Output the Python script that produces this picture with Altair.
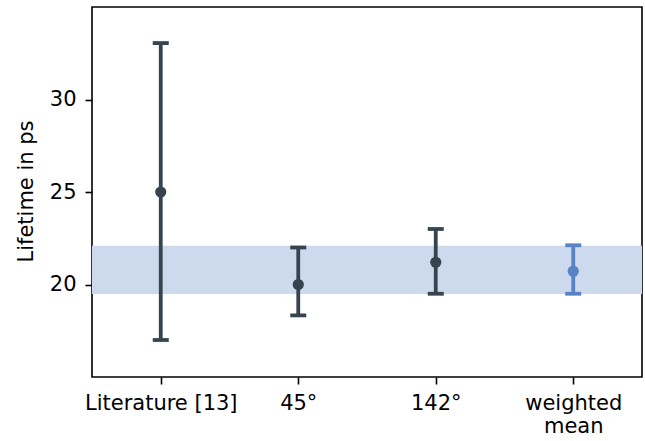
import altair as alt
import pandas as pd

categories = ["Literature [13]", "45°", "142°", "weighted mean"]
values = [25.0, 20.0, 21.2, 20.72]
lower = [17.0, 18.33, 19.5, 19.5]
upper = [33.05, 22.0, 23.0, 22.12]
kinds = ["measurement", "measurement", "measurement", "mean"]
band_low = [19.49]
band_high = [22.1]

df = pd.DataFrame({"cat": categories, "val": values, "lo": lower, "hi": upper, "kind": kinds})
caps = pd.DataFrame({
    "cat": categories * 2,
    "y": lower + upper,
    "kind": kinds * 2,
})
band = pd.DataFrame({"lo": band_low, "hi": band_high})

dark = "#36444f"
blue = "#5a83c5"
color_scale = alt.Scale(domain=["measurement", "mean"], range=[dark, blue])

x_enc = alt.X(
    "cat:N",
    sort=categories,
    scale=alt.Scale(type="point", padding=0.5),
    axis=alt.Axis(
        title=None, labelAngle=0, labelFontSize=21, labelFont="DejaVu Sans",
        labelColor="black", tickColor="black", tickSize=7, tickWidth=1.6,
        labelPadding=8, domain=False, grid=False, labelLineHeight=23,
        labelExpr="datum.value == 'weighted mean' ? ['weighted', 'mean'] : datum.value",
    ),
)
y_scale = alt.Scale(domain=[15, 35], nice=False, zero=False)
y_axis = alt.Axis(
    title="Lifetime in ps", values=[20, 25, 30], labelFontSize=21, labelFont="DejaVu Sans",
    labelColor="black", tickColor="black", tickSize=7, tickWidth=1.6, labelPadding=9,
    domain=False, grid=False, titleFontSize=21, titleFont="DejaVu Sans",
    titleFontWeight="normal", titleColor="black", titleAngle=-90,
    titleX=-60, titleY=184, titleAlign="center", titleBaseline="alphabetic",
)

band_layer = alt.Chart(band).mark_rect(color="#cdd9ed").encode(
    x=alt.value(0), x2=alt.value(550),
    y=alt.Y("lo:Q", scale=y_scale, axis=y_axis), y2="hi:Q",
)

rules = alt.Chart(df).mark_rule(strokeWidth=3.8).encode(
    x=x_enc,
    y=alt.Y("lo:Q", scale=y_scale, axis=y_axis), y2="hi:Q",
    color=alt.Color("kind:N", scale=color_scale, legend=None),
)

cap_layer = alt.Chart(caps).mark_tick(size=16, thickness=3.8, orient="horizontal", opacity=1).encode(
    x=x_enc,
    y=alt.Y("y:Q", scale=y_scale, axis=y_axis),
    color=alt.Color("kind:N", scale=color_scale, legend=None),
)

points = alt.Chart(df).mark_circle(size=125, opacity=1).encode(
    x=x_enc,
    y=alt.Y("val:Q", scale=y_scale, axis=y_axis),
    color=alt.Color("kind:N", scale=color_scale, legend=None),
)

chart = alt.layer(band_layer, rules, cap_layer, points).properties(
    width=550, height=370,
    autosize=alt.AutoSizeParams(type="none"),
    padding={"left": 92, "top": 7, "right": 3, "bottom": 64},
    background="white",
).configure_view(stroke="black", strokeWidth=1.6)

chart.save("out.html", embed_options={"renderer": "svg", "actions": False})
